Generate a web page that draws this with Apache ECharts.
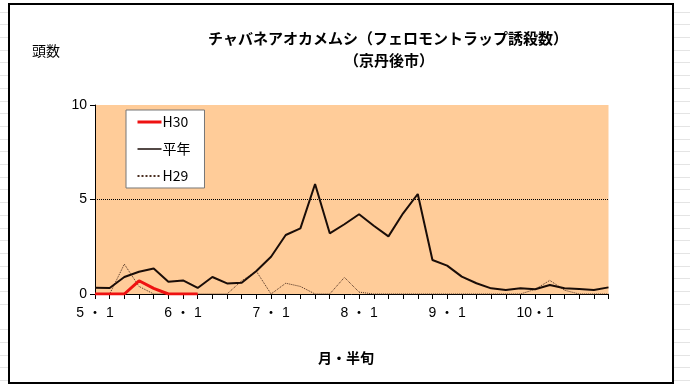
<!DOCTYPE html>
<html><head><meta charset="utf-8">
<script src="https://cdn.jsdelivr.net/npm/echarts@6/dist/echarts.min.js"></script>
<style>
html,body{margin:0;padding:0;}
body{width:690px;height:392px;background:#fff repeating-linear-gradient(to bottom, transparent 0, transparent 11.7px, #e4e4e4 11.7px, #e4e4e4 12.7px);position:relative;overflow:hidden;}
#frame{position:absolute;left:8px;top:3px;width:662px;height:377px;border:2px solid #000;background:#fff;}
#chart{position:absolute;left:0;top:0;width:690px;height:392px;}
</style></head><body><div id="frame"></div><div id="chart"></div>
<script>
const months = [5, 6, 7, 8, 9, 10];
const pentads = [1, 2, 3, 4, 5, 6];
const tickLabels = ['5 ・ 1', '6 ・ 1', '7 ・ 1', '8 ・ 1', '9 ・ 1', '10・1'];
const yTicks = [0, 5, 10];
const seriesNames = ['H30', '平年', 'H29'];
const h30 = [0, 0, 0, 0.7, 0.3, 0, 0, 0];
const heinen = [0.33, 0.32, 0.9, 1.18, 1.35, 0.65, 0.72, 0.32, 0.9, 0.56, 0.6, 1.22,
  1.97, 3.12, 3.47, 5.82, 3.21, 3.69, 4.22, 3.61, 3.05, 4.27, 5.29, 1.8,
  1.5, 0.92, 0.57, 0.3, 0.21, 0.3, 0.25, 0.48, 0.3, 0.26, 0.21, 0.35];
const h29 = [0, 0, 1.58, 0.4, 0, 0, 0, 0, 0, 0, 0.7, 1.2,
  0, 0.57, 0.4, 0, 0, 0.88, 0.1, 0, 0, 0, 0, 0,
  0, 0, 0, 0, 0, 0, 0.25, 0.72, 0.2, 0, 0, 0];

const categories = [];
months.forEach(m => pentads.forEach(p => categories.push(m + '・' + p)));

const latin = "'Liberation Sans','Noto Sans CJK JP',sans-serif";
const jp = "'Noto Sans CJK JP','Liberation Sans',sans-serif";
const red = '#ee1111', dark = '#1a0d08', brown = '#4a2e20';

const chart = echarts.init(document.getElementById('chart'), null, {renderer: 'canvas'});
chart.setOption({
  animation: false,
  backgroundColor: 'transparent',
  title: [
    {text: 'チャバネアオカメムシ（フェロモントラップ誘殺数）', left: 383, top: 26, textAlign: 'center',
     textStyle: {fontFamily: jp, fontSize: 15, fontWeight: 'bold', color: '#000'}},
    {text: '（京丹後市）', left: 384, top: 48, textAlign: 'center',
     textStyle: {fontFamily: jp, fontSize: 15, fontWeight: 'bold', color: '#000'}},
    {text: '頭数', left: 27, top: 39,
     textStyle: {fontFamily: jp, fontSize: 14, fontWeight: 'normal', color: '#000'}},
    {text: '月・半旬', left: 341, top: 346, textAlign: 'center',
     textStyle: {fontFamily: jp, fontSize: 14, fontWeight: 'bold', color: '#000'}}
  ],
  grid: {left: 95, right: 81.5, top: 105, bottom: 98, show: true, backgroundColor: '#FFCC99', borderWidth: 0, outerBoundsMode: 'none'},
  legend: {
    data: [
      {name: seriesNames[0], lineStyle: {width: 3, color: red}},
      {name: seriesNames[1], lineStyle: {width: 1.5, color: dark}},
      seriesNames[2]
    ],
    orient: 'vertical', left: 126, top: 110,
    backgroundColor: '#fff', borderColor: '#777', borderWidth: 1,
    padding: [5, 14, 5, 10], itemGap: 13, itemWidth: 24, itemHeight: 14,
    itemStyle: {opacity: 0},
    textStyle: {fontFamily: jp, fontSize: 14, color: '#000', padding: [0, 0, 0, -4]}
  },
  xAxis: {
    type: 'category', data: categories, boundaryGap: false,
    axisLine: {lineStyle: {color: '#000', width: 1}},
    axisTick: {interval: 0, length: 5, lineStyle: {color: '#000'}},
    axisLabel: {
      interval: 0, margin: 12, color: '#000', fontFamily: latin, fontSize: 14,
      formatter: (v, i) => (i % 6 === 0 ? tickLabels[i / 6] : '')
    },
    splitLine: {show: false}
  },
  yAxis: {
    type: 'value', min: yTicks[0], max: yTicks[yTicks.length - 1], interval: 5,
    axisLine: {show: true, lineStyle: {color: '#000', width: 1}},
    axisTick: {show: true, length: 5, lineStyle: {color: '#000'}},
    axisLabel: {margin: 8, color: '#000', fontFamily: latin, fontSize: 14},
    splitLine: {show: true, lineStyle: {color: ['transparent', '#000', 'transparent'], type: 'dotted', width: 1}}
  },
  series: [
    {name: 'H29', type: 'line', data: h29, symbol: 'none', z: 2,
     lineStyle: {color: brown, width: 1, type: 'dotted'}, itemStyle: {color: brown}},
    {name: '平年', type: 'line', data: heinen, symbol: 'none', z: 3,
     lineStyle: {color: dark, width: 2}, itemStyle: {color: dark}},
    {name: 'H30', type: 'line', data: h30, symbol: 'none', z: 4,
     lineStyle: {color: red, width: 3}, itemStyle: {color: red}}
  ]
});
</script></body></html>
